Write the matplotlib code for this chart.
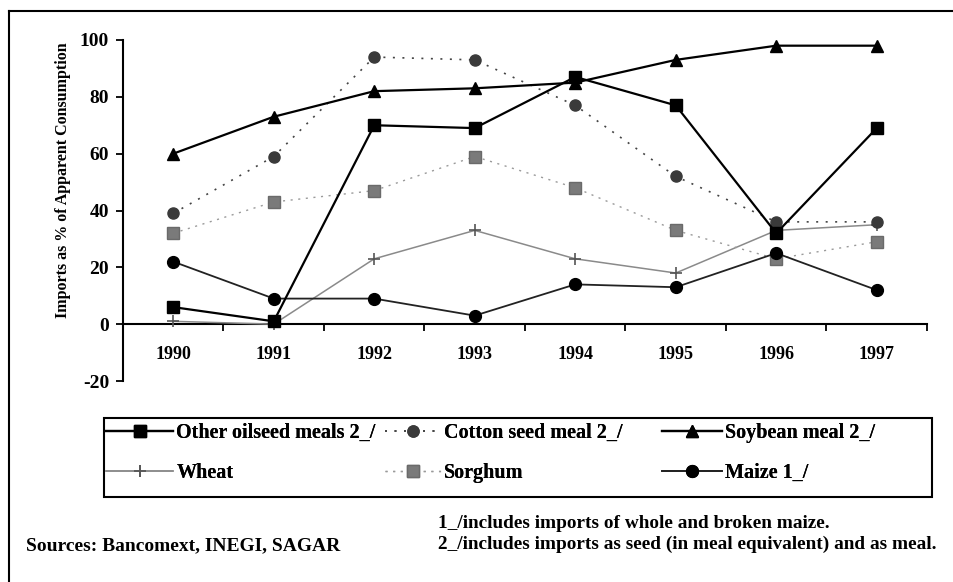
import matplotlib
matplotlib.use("Agg")
import matplotlib.pyplot as plt
from matplotlib.lines import Line2D
from matplotlib.patches import Rectangle

years = ["1990", "1991", "1992", "1993", "1994", "1995", "1996", "1997"]
other_oilseed = [6, 1, 70, 69, 87, 77, 32, 69]
cotton_seed = [39, 59, 94, 93, 77, 52, 36, 36]
soybean = [60, 73, 82, 83, 85, 93, 98, 98]
wheat = [1, 0, 23, 33, 23, 18, 33, 35]
sorghum = [32, 43, 47, 59, 48, 33, 23, 29]
maize = [22, 9, 9, 3, 14, 13, 25, 12]
yticks = [-20, 0, 20, 40, 60, 80, 100]

plt.rcParams['font.family'] = ['Liberation Serif', 'DejaVu Serif']
plt.rcParams['font.weight'] = 'bold'

W, H = 954, 582
fig = plt.figure(figsize=(W / 100, H / 100), dpi=100)
left, right, top, bottom = 123, 927, 40, 381
ax = fig.add_axes([left / W, 1 - bottom / H, (right - left) / W, (bottom - top) / H])

x = list(range(len(years)))

h_other, = ax.plot(x, other_oilseed, color='black', lw=1.6, marker='s', ms=9,
                   mfc='black', mec='black', label='Other oilseed meals 2_/', zorder=5)
h_cotton, = ax.plot(x, cotton_seed, color='#444444', lw=1.2, dashes=(1.2, 4.5), marker='o', ms=8,
                    mfc='#3a3a3a', mec='#3a3a3a', label='Cotton seed meal 2_/', zorder=4)
h_soy, = ax.plot(x, soybean, color='black', lw=1.6, marker='^', ms=9,
                 mfc='black', mec='black', label='Soybean meal 2_/', zorder=5)
h_wheat, = ax.plot(x, wheat, color='#8a8a8a', lw=1.1, marker='+', ms=9, mew=1.2,
                   mec='#555555', label='Wheat', zorder=3)
h_sorg, = ax.plot(x, sorghum, color='#9a9a9a', lw=1.0, dashes=(1.5, 4), marker='s', ms=8,
                  mfc='#7a7a7a', mec='#6a6a6a', label='Sorghum', zorder=3)
h_maize, = ax.plot(x, maize, color='#222222', lw=1.3, marker='o', ms=8.5,
                   mfc='black', mec='black', label='Maize 1_/', zorder=4)

ax.set_xlim(-0.5, len(years) - 0.5)
ax.set_ylim(-20, 100)
ax.set_yticks(yticks)
ax.set_yticklabels([str(v) for v in yticks], fontsize=14, fontweight='bold')
ax.tick_params(axis='y', direction='out', length=5, width=1.3, pad=5)

ax.spines['top'].set_visible(False)
ax.spines['right'].set_visible(False)
ax.spines['left'].set_linewidth(1.5)
ax.spines['bottom'].set_position(('data', 0))
ax.spines['bottom'].set_linewidth(1.5)

ax.set_xticks(x)
ax.set_xticklabels(years, fontsize=13, fontweight='bold')
ax.tick_params(axis='x', which='major', length=0, pad=16)
ax.set_xticks([i - 0.5 for i in range(len(years) + 1)], minor=True)
ax.tick_params(axis='x', which='minor', direction='out', length=5, width=1.3)

fig.text(63 / W, 1 - 180 / H, 'Imports as % of Apparent Consumption', rotation=90,
         ha='center', va='center', fontsize=11.5, fontweight='bold')

# legend: three columns placed individually, one shared frame
leg_font = {'family': ['Liberation Serif'], 'weight': 'bold', 'size': 14.5}
columns = [([h_other, h_wheat], 106, 3.35), ([h_cotton, h_sorg], 385, 2.8),
           ([h_soy, h_maize], 662, 3.0)]
row_top = 423
for hs, x0, hl in columns:
    lg = fig.legend(handles=hs, labels=[h.get_label() for h in hs], ncol=1,
                    loc='upper left', bbox_to_anchor=(x0 / W, 1 - row_top / H),
                    frameon=False, prop=leg_font, handlelength=hl, handletextpad=0.15,
                    labelspacing=1.0, borderpad=0, borderaxespad=0)
    fig.add_artist(lg)
fig.add_artist(Rectangle((104 / W, 1 - 497 / H), (932 - 104) / W, (497 - 418) / H,
                         transform=fig.transFigure, fill=False, edgecolor='black', lw=1.5))

fig.text(26 / W, 1 - 546 / H, 'Sources: Bancomext, INEGI, SAGAR', ha='left', va='center',
         fontsize=14, fontweight='bold')
fig.text(438 / W, 1 - 524 / H, '1_/includes imports of whole and broken maize.', ha='left',
         va='center', fontsize=13.9, fontweight='bold')
fig.text(438 / W, 1 - 544 / H, '2_/includes imports as seed (in meal equivalent) and as meal.',
         ha='left', va='center', fontsize=13.9, fontweight='bold')

# outer frame (left and top edges visible)
fig.add_artist(Line2D([9 / W, 9 / W], [0, 1 - 11 / H], transform=fig.transFigure,
                      color='black', lw=1.5))
fig.add_artist(Line2D([9 / W, 1], [1 - 11 / H, 1 - 11 / H], transform=fig.transFigure,
                      color='black', lw=1.5))

fig.savefig('out.png', dpi=100)
